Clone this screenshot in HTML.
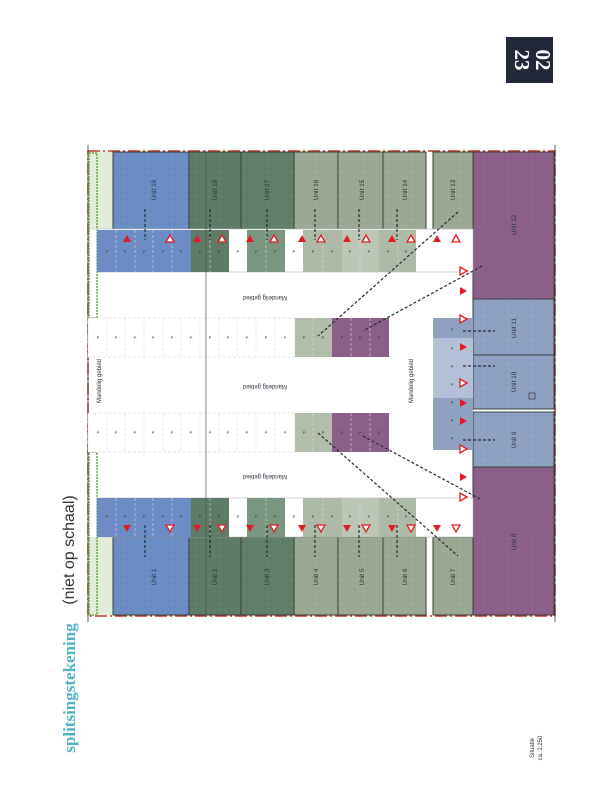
<!DOCTYPE html>
<html><head><meta charset="utf-8"><style>
html,body{margin:0;padding:0;background:#fff;}
svg{display:block;font-family:"Liberation Sans",sans-serif;}
</style></head><body>
<svg width="607" height="786" viewBox="0 0 607 786" xmlns="http://www.w3.org/2000/svg">
<defs>
<pattern id="st" width="6" height="6" patternUnits="userSpaceOnUse">
<circle cx="1" cy="1" r="0.5" fill="#000" opacity="0.12"/><circle cx="4" cy="4" r="0.5" fill="#fff" opacity="0.2"/>
</pattern>
<g id="tu"><polygon points="0,-4 4,3 -4,3" fill="#e31b23"/></g>
<g id="tuo"><polygon points="0,-4 4,3 -4,3" fill="#fff" stroke="#e31b23" stroke-width="1.3"/></g>
<g id="td"><polygon points="0,4 4,-3 -4,-3" fill="#e31b23"/></g>
<g id="tdo"><polygon points="0,4 4,-3 -4,-3" fill="#fff" stroke="#e31b23" stroke-width="1.3"/></g>
<g id="tr"><polygon points="4,0 -3,-4 -3,4" fill="#e31b23"/></g>
<g id="tro"><polygon points="4,0 -3,-4 -3,4" fill="#fff" stroke="#e31b23" stroke-width="1.3"/></g>
</defs>

<!-- logo -->
<rect x="506" y="37" width="47" height="46" fill="#232838"/>
<text transform="translate(515,60) rotate(90)" text-anchor="middle" font-size="21" font-weight="bold" fill="#fff" font-family="Liberation Serif,serif">23</text>
<text transform="translate(536,60) rotate(90)" text-anchor="middle" font-size="21" font-weight="bold" fill="#fff" font-family="Liberation Serif,serif">02</text>

<!-- site border -->
<rect x="88" y="151" width="467" height="465" fill="#fff" stroke="#c0392b" stroke-width="1.5" stroke-dasharray="12,3,2,3"/>
<line x1="88" y1="145" x2="88" y2="622" stroke="#333" stroke-width="0.8"/>
<line x1="555" y1="145" x2="555" y2="622" stroke="#333" stroke-width="0.8"/>

<!-- green strip -->
<rect x="89" y="152" width="24" height="78" fill="#e2ecd9"/>
<rect x="89" y="537" width="24" height="78" fill="#e2ecd9"/>
<rect x="89" y="153" width="8" height="165" fill="none" stroke="#6aa84f" stroke-width="1.5" stroke-dasharray="2,1"/>
<rect x="89" y="452" width="8" height="163" fill="none" stroke="#6aa84f" stroke-width="1.5" stroke-dasharray="2,1"/>

<g stroke="#3a3f3a" stroke-width="1">
<rect x="113" y="152" width="76" height="78" fill="#6b8cc4"/>
<rect x="189" y="152" width="52" height="78" fill="#5d7b66"/>
<rect x="241" y="152" width="53" height="78" fill="#607e69"/>
<rect x="294" y="152" width="44" height="78" fill="#9aa894"/>
<rect x="338" y="152" width="45" height="78" fill="#9aa894"/>
<rect x="383" y="152" width="43" height="78" fill="#9aa894"/>
<rect x="433" y="152" width="40" height="78" fill="#9aa894"/>
<rect x="473" y="152" width="81" height="147" fill="#8a6088"/>
<rect x="473" y="299" width="81" height="56" fill="#8fa1c0"/>
<rect x="473" y="355" width="81" height="54" fill="#8fa1c0"/>
<rect x="473" y="412" width="81" height="55" fill="#8fa1c0"/>
<rect x="473" y="467" width="81" height="148" fill="#8a6088"/>
<rect x="113" y="537" width="76" height="78" fill="#6b8cc4"/>
<rect x="189" y="537" width="52" height="78" fill="#5d7b66"/>
<rect x="241" y="537" width="53" height="78" fill="#607e69"/>
<rect x="294" y="537" width="44" height="78" fill="#9aa894"/>
<rect x="338" y="537" width="45" height="78" fill="#9aa894"/>
<rect x="383" y="537" width="43" height="78" fill="#9aa894"/>
<rect x="433" y="537" width="40" height="78" fill="#9aa894"/>
</g>
<g fill="url(#st)">
<rect x="113" y="152" width="441" height="78"/><rect x="113" y="537" width="441" height="78"/>
<rect x="473" y="299" width="81" height="168"/>
</g>

<rect x="97" y="229" width="376" height="43" fill="#fff" stroke="#bbb" stroke-width="0.6"/>
<rect x="97" y="230" width="94" height="42" fill="#6b8cc4"/>
<rect x="191" y="230" width="38" height="42" fill="#5d7b66"/>
<rect x="247" y="230" width="38" height="42" fill="#7a9580"/>
<rect x="303" y="230" width="39" height="42" fill="#aebaa8"/>
<rect x="342" y="230" width="37" height="42" fill="#bcc6b6"/>
<rect x="379" y="230" width="37" height="42" fill="#aebaa8"/>
<rect x="97" y="498" width="376" height="39" fill="#fff" stroke="#bbb" stroke-width="0.6"/>
<rect x="97" y="498" width="94" height="39" fill="#6b8cc4"/>
<rect x="191" y="498" width="38" height="39" fill="#5d7b66"/>
<rect x="247" y="498" width="38" height="39" fill="#7a9580"/>
<rect x="303" y="498" width="39" height="39" fill="#aebaa8"/>
<rect x="342" y="498" width="37" height="39" fill="#bcc6b6"/>
<rect x="379" y="498" width="37" height="39" fill="#aebaa8"/>
<rect x="88" y="318" width="207" height="39" fill="#fff" stroke="#ccc" stroke-width="0.5" stroke-dasharray="3,2"/>
<rect x="295" y="318" width="37" height="39" fill="#b3bdab"/>
<rect x="332" y="318" width="57" height="39" fill="#8a6088"/>
<rect x="88" y="413" width="207" height="39" fill="#fff" stroke="#ccc" stroke-width="0.5" stroke-dasharray="3,2"/>
<rect x="295" y="413" width="37" height="39" fill="#b3bdab"/>
<rect x="332" y="413" width="57" height="39" fill="#8a6088"/>
<rect x="433" y="318" width="40" height="132" fill="#8fa1c0"/>
<rect x="433" y="338" width="40" height="60" fill="#b4c0d8"/>
<g stroke="#ddd" stroke-width="0.6" stroke-dasharray="3,2">
<path d="M107 318V357M125 318V357M144 318V357M163 318V357M181 318V357M200 318V357M219 318V357M237 318V357M256 318V357M275 318V357M313 318V357M351 318V357M370 318V357"/>
<path d="M107 413V452M125 413V452M144 413V452M163 413V452M181 413V452M200 413V452M219 413V452M237 413V452M256 413V452M275 413V452M313 413V452M351 413V452M370 413V452"/>
<path d="M116 230V272M135 230V272M153 230V272M172 230V272M210 230V272M266 230V272M323 230V272M360 230V272M398 230V272"/>
<path d="M116 498V537M135 498V537M153 498V537M172 498V537M210 498V537M266 498V537M323 498V537M360 498V537M398 498V537"/>
</g>
<line x1="206" y1="150" x2="206" y2="617" stroke="#555" stroke-width="0.7"/>
<g font-size="4" fill="#333" text-anchor="middle">
<text x="107" y="253">P</text><text x="125" y="253">P</text><text x="144" y="253">P</text><text x="163" y="253">P</text><text x="181" y="253">P</text><text x="200" y="253">P</text><text x="219" y="253">P</text><text x="238" y="253">P</text><text x="256" y="253">P</text><text x="275" y="253">P</text><text x="294" y="253">P</text><text x="313" y="253">P</text><text x="332" y="253">P</text><text x="350" y="253">P</text><text x="369" y="253">P</text><text x="388" y="253">P</text><text x="406" y="253">P</text>
<text x="107" y="518">P</text><text x="125" y="518">P</text><text x="144" y="518">P</text><text x="163" y="518">P</text><text x="181" y="518">P</text><text x="200" y="518">P</text><text x="219" y="518">P</text><text x="238" y="518">P</text><text x="256" y="518">P</text><text x="275" y="518">P</text><text x="294" y="518">P</text><text x="313" y="518">P</text><text x="332" y="518">P</text><text x="350" y="518">P</text><text x="369" y="518">P</text><text x="388" y="518">P</text><text x="406" y="518">P</text>
<text x="98" y="339">P</text><text x="116" y="339">P</text><text x="135" y="339">P</text><text x="153" y="339">P</text><text x="172" y="339">P</text><text x="191" y="339">P</text><text x="210" y="339">P</text><text x="228" y="339">P</text><text x="247" y="339">P</text><text x="266" y="339">P</text><text x="285" y="339">P</text><text x="304" y="339">P</text><text x="323" y="339">P</text><text x="342" y="339">P</text><text x="360" y="339">P</text><text x="379" y="339">P</text>
<text x="98" y="434">P</text><text x="116" y="434">P</text><text x="135" y="434">P</text><text x="153" y="434">P</text><text x="172" y="434">P</text><text x="191" y="434">P</text><text x="210" y="434">P</text><text x="228" y="434">P</text><text x="247" y="434">P</text><text x="266" y="434">P</text><text x="285" y="434">P</text><text x="304" y="434">P</text><text x="323" y="434">P</text><text x="342" y="434">P</text><text x="360" y="434">P</text><text x="379" y="434">P</text>
<text x="452" y="331">P</text><text x="452" y="350">P</text><text x="452" y="368">P</text><text x="452" y="386">P</text><text x="452" y="404">P</text><text x="452" y="422">P</text><text x="452" y="440">P</text>
</g>

<g font-size="6" fill="#2e3540" text-anchor="middle">
<text transform="translate(265,296) rotate(180)">Mandelig gebied</text>
<text transform="translate(265,385) rotate(180)">Mandelig gebied</text>
<text transform="translate(265,475) rotate(180)">Mandelig gebied</text>
<text transform="translate(101,381) rotate(-90)">Mandelig gebied</text>
<text transform="translate(413,381) rotate(-90)">Mandelig gebied</text>
<g font-size="6.5">
<text transform="translate(156,190) rotate(-90)">Unit 19</text>
<text transform="translate(217,190) rotate(-90)">Unit 18</text>
<text transform="translate(269,190) rotate(-90)">Unit 17</text>
<text transform="translate(318,190) rotate(-90)">Unit 16</text>
<text transform="translate(364,190) rotate(-90)">Unit 15</text>
<text transform="translate(407,190) rotate(-90)">Unit 14</text>
<text transform="translate(455,190) rotate(-90)">Unit 13</text>
<text transform="translate(516,225) rotate(-90)">Unit 12</text>
<text transform="translate(516,328) rotate(-90)">Unit 11</text>
<text transform="translate(516,382) rotate(-90)">Unit 10</text>
<text transform="translate(516,440) rotate(-90)">Unit 9</text>
<text transform="translate(516,542) rotate(-90)">Unit 8</text>
<text transform="translate(156,577) rotate(-90)">Unit 1</text>
<text transform="translate(217,577) rotate(-90)">Unit 2</text>
<text transform="translate(269,577) rotate(-90)">Unit 3</text>
<text transform="translate(318,577) rotate(-90)">Unit 4</text>
<text transform="translate(364,577) rotate(-90)">Unit 5</text>
<text transform="translate(407,577) rotate(-90)">Unit 6</text>
<text transform="translate(455,577) rotate(-90)">Unit 7</text>
</g></g>
<rect x="529" y="393" width="6" height="6" fill="none" stroke="#333" stroke-width="0.7"/>

<g stroke="#2b2b35" stroke-width="1.2" stroke-dasharray="3,2" fill="none">
<path d="M145 209V240M210 209V240M267 209V240M315 209V240M359 209V240M397 209V240"/>
<path d="M145 525V557M210 525V557M267 525V557M315 525V557M359 525V557M397 525V557"/>
<path d="M458 212L318 336M482 266L363 331M318 433L458 556M363 436L482 500"/>
<path d="M463 331H495M463 366H495M463 440H495"/>
</g>

<g>
<use href="#tu" x="127" y="239"/><use href="#tuo" x="170" y="239"/>
<use href="#tu" x="197" y="239"/><use href="#tuo" x="222" y="239"/>
<use href="#tu" x="250" y="239"/><use href="#tuo" x="274" y="239"/>
<use href="#tu" x="302" y="239"/><use href="#tuo" x="321" y="239"/>
<use href="#tu" x="347" y="239"/><use href="#tuo" x="366" y="239"/>
<use href="#tu" x="392" y="239"/><use href="#tuo" x="411" y="239"/>
<use href="#tu" x="437" y="239"/><use href="#tuo" x="456" y="239"/>
<use href="#td" x="127" y="528"/><use href="#tdo" x="170" y="528"/>
<use href="#td" x="197" y="528"/><use href="#tdo" x="222" y="528"/>
<use href="#td" x="250" y="528"/><use href="#tdo" x="274" y="528"/>
<use href="#td" x="302" y="528"/><use href="#tdo" x="321" y="528"/>
<use href="#td" x="347" y="528"/><use href="#tdo" x="366" y="528"/>
<use href="#td" x="392" y="528"/><use href="#tdo" x="411" y="528"/>
<use href="#td" x="437" y="528"/><use href="#tdo" x="456" y="528"/>
<use href="#tro" x="463" y="271"/><use href="#tr" x="463" y="291"/>
<use href="#tro" x="463" y="319"/><use href="#tr" x="463" y="347"/>
<use href="#tro" x="463" y="383"/><use href="#tr" x="463" y="403"/>
<use href="#tr" x="463" y="421"/><use href="#tro" x="463" y="449"/>
<use href="#tr" x="463" y="477"/><use href="#tro" x="463" y="497"/>
</g>

<text transform="translate(75,688) rotate(-90)" text-anchor="middle" font-size="17" font-weight="bold" fill="#4fb3c9" font-family="Liberation Serif,serif">splitsingstekening</text>
<text transform="translate(74,550) rotate(-90)" text-anchor="middle" font-size="16" fill="#333">(niet op schaal)</text>
<text transform="translate(534,748) rotate(-90)" text-anchor="middle" font-size="6" fill="#333">Situatie</text>
<text transform="translate(542,748) rotate(-90)" text-anchor="middle" font-size="6" fill="#333">ca. 1:250</text>
</svg>
</body></html>
